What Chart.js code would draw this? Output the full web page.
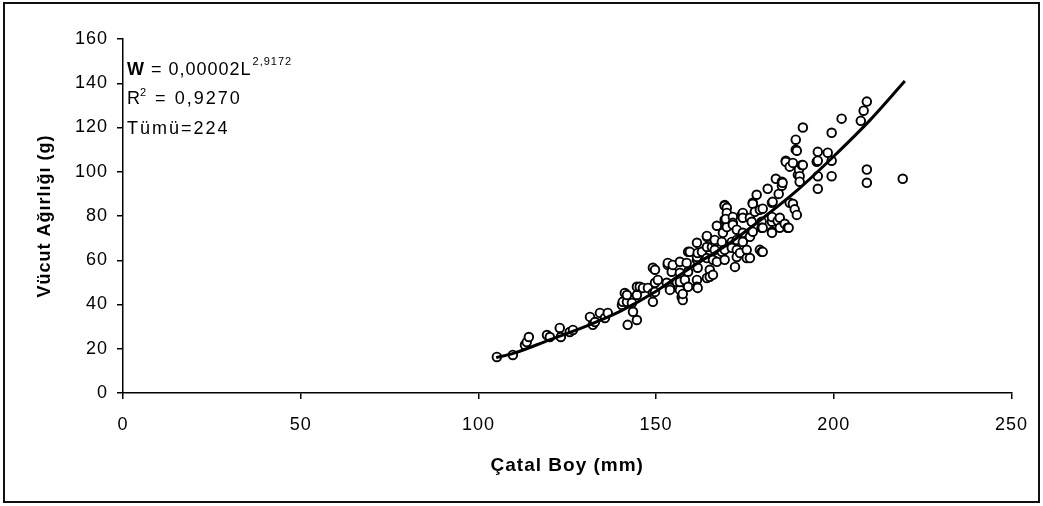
<!DOCTYPE html>
<html><head><meta charset="utf-8">
<script src="https://cdn.jsdelivr.net/npm/chart.js@4/dist/chart.umd.min.js"></script>
<style>html,body{margin:0;padding:0;background:#fff}canvas{display:block}</style>
</head><body>
<canvas id="c" width="1043" height="506"></canvas>
<script>
const forkLength = [105.2,109.7,113.1,113.6,114.2,119.3,120.1,122.9,123.2,125.7,126.6,131.4,132.2,132.8,134.2,135.6,136.4,140.4,140.6,141.2,141.8,141.8,142.0,143.2,143.5,144.6,144.6,144.6,145.4,146.3,147.7,149.1,149.1,149.1,149.7,149.7,149.7,150.5,153.0,153.3,153.3,153.9,153.9,154.4,154.7,155.8,156.7,156.7,156.7,156.7,157.2,157.5,157.5,158.1,158.6,159.0,159.0,159.0,159.5,161.5,161.5,161.5,161.5,161.5,161.7,161.7,161.7,162.9,164.3,164.3,164.3,164.3,164.3,165.1,165.1,165.7,166.0,166.0,166.5,166.5,166.5,167.1,167.1,168.5,168.5,168.8,169.3,169.3,169.3,169.3,169.3,169.9,169.9,169.9,169.6,171.3,171.3,171.6,171.6,171.6,172.2,172.7,172.7,172.7,172.7,173.6,174.1,174.4,174.4,174.4,174.4,175.5,175.5,176.4,176.4,176.4,176.9,177.2,177.2,177.2,177.8,178.3,179.2,179.2,179.7,179.7,179.7,180.0,180.0,180.0,181.4,182.6,182.6,182.6,182.6,182.6,182.8,183.7,184.2,184.5,184.8,184.8,185.4,185.4,185.6,186.2,186.5,186.5,187.0,187.3,187.6,187.6,188.5,188.5,189.0,189.3,189.3,189.6,189.6,189.9,190.2,190.4,190.4,191.0,191.3,191.3,195.2,195.5,195.5,195.5,195.5,198.3,199.4,199.4,199.4,202.2,207.6,208.4,209.3,209.3,209.3,219.4];
const bodyWeight = [16.3,17.2,21.7,23.0,25.3,26.2,25.3,29.4,25.3,27.6,28.5,34.4,30.8,32.1,36.2,33.9,36.2,39.8,41.2,45.2,41.2,44.3,30.8,40.7,36.7,33.0,44.3,48.0,48.0,47.5,47.5,41.2,45.2,56.6,45.7,49.8,55.7,51.1,49.8,57.9,58.8,47.5,46.6,54.8,57.9,50.2,59.3,54.3,46.6,50.2,43.4,42.0,44.8,51.1,58.8,63.8,54.8,48.0,63.8,67.9,60.2,51.1,48.0,61.5,63.3,56.6,47.5,63.8,70.6,66.0,61.0,52.0,71.0,55.7,52.5,66.0,53.4,60.2,68.3,69.2,64.7,59.3,75.6,68.3,63.8,72.4,85.0,84.6,78.3,64.7,60.2,83.7,81.4,75.0,78.7,68.3,65.6,79.6,76.9,76.0,57.0,73.8,64.7,61.5,69.2,63.3,80.5,81.4,79.2,72.4,68.3,64.7,61.0,61.0,70.6,79.2,77.4,86.0,72.9,85.5,81.9,89.6,82.8,64.7,77.4,63.8,74.7,74.7,63.8,83.3,92.3,86.0,77.4,72.9,79.6,72.4,86.4,96.8,77.8,90.0,79.2,74.7,93.7,95.5,95.0,76.5,105.0,104.5,74.7,74.7,86.0,102.3,104.0,85.5,83.0,114.5,110.0,80.5,109.5,98.6,101.0,98.0,95.5,103.0,120.0,103.0,104.5,109.0,105.0,98.0,92.3,108.6,117.6,105.0,98.0,124.0,123.0,127.6,131.7,101.0,95.0,96.8];
const trendLength = [105,110,120,130,140,150,160,170,180,190,200,210,220];
const trendWeight = [16,18,24,30,37,46,57,67,79,92,107,123,141];
const xTicks = [0,50,100,150,200,250];
const yTicks = [0,20,40,60,80,100,120,140,160];
const xTitle = 'Çatal Boy (mm)';
const yTitle = 'Vücut Ağırlığı (g)';
const eqLead = 'W', eqRest = ' = 0,00002L', eqExp = '2,9172';
const r2Lead = 'R', r2Exp = '2', r2Rest = ' = 0,9270';
const countText = 'Tümü=224';

const FONT = '"Liberation Sans", Arial, sans-serif';
const SP = '1px';

const spacing = {
  id: 'spacing',
  beforeLayout(c) { c.ctx.letterSpacing = SP; },
  beforeDraw(c) { c.ctx.letterSpacing = SP; }
};
const annot = {
  id: 'annot',
  afterDatasetsDraw(c) {
    const ctx = c.ctx, a = c.chartArea;
    ctx.save();
    ctx.fillStyle = '#000';
    ctx.textBaseline = 'alphabetic';
    ctx.textAlign = 'left';
    ctx.letterSpacing = '1px';
    let x = a.left + 4, y = a.top + 36;
    ctx.font = 'bold 18px ' + FONT;
    ctx.fillText(eqLead, x, y); x += ctx.measureText(eqLead).width;
    ctx.font = '18px ' + FONT;
    ctx.fillText(eqRest, x, y); x += ctx.measureText(eqRest).width + 1;
    ctx.font = '11px ' + FONT;
    ctx.fillText(eqExp, x, y - 10);
    ctx.letterSpacing = '2px';
    x = a.left + 4; y = a.top + 65;
    ctx.font = '18px ' + FONT;
    ctx.fillText(r2Lead, x, y); x += ctx.measureText(r2Lead).width - 2;
    ctx.font = '11px ' + FONT;
    ctx.fillText(r2Exp, x, y - 8); x += ctx.measureText(r2Exp).width;
    ctx.font = '18px ' + FONT;
    ctx.fillText(r2Rest, x, y);
    x = a.left + 4; y = a.top + 95;
    ctx.fillText(countText, x, y);
    ctx.restore();
  },
  afterDraw(c) {
    const ctx = c.ctx;
    ctx.save();
    ctx.strokeStyle = '#111';
    ctx.lineWidth = 2;
    ctx.strokeRect(4, 3, 1035, 499);
    ctx.restore();
  }
};

new Chart(document.getElementById('c'), {
  type: 'scatter',
  data: {
    datasets: [
      {
        type: 'line',
        data: trendLength.map((x, i) => ({x, y: trendWeight[i]})),
        borderColor: '#000', borderWidth: 3, pointRadius: 0,
        tension: 0.4, cubicInterpolationMode: 'monotone', fill: false
      },
      {
        data: forkLength.map((x, i) => ({x, y: bodyWeight[i]})),
        pointRadius: 4.3, pointBorderWidth: 1.9,
        pointBorderColor: '#000', pointBackgroundColor: '#fff', pointHoverRadius: 4.3
      }
    ]
  },
  options: {
    responsive: false, animation: false,
    events: [],
    layout: {padding: {left: 0, top: 39, right: 31, bottom: 0}},
    plugins: {legend: {display: false}, tooltip: {enabled: false}},
    scales: {
      x: {
        type: 'linear', min: 0, max: 250,
        afterBuildTicks(s) { s.ticks = xTicks.map(v => ({value: v})); },
        afterFit(s) { s.height = 113; },
        ticks: {color: '#000', font: {family: FONT, size: 18}, padding: 15, autoSkip: false, maxRotation: 0},
        grid: {drawOnChartArea: false, drawTicks: true, tickLength: 6, color: '#000', lineWidth: 1.5},
        border: {color: '#000', width: 1.5},
        title: {display: true, text: xTitle, color: '#000', font: {family: FONT, size: 19, weight: 'bold'}, padding: {top: 0, bottom: 29}}
      },
      y: {
        type: 'linear', min: 0, max: 160,
        afterBuildTicks(s) { s.ticks = yTicks.map(v => ({value: v})); },
        afterFit(s) { s.width = 123; },
        ticks: {color: '#000', font: {family: FONT, size: 18}, padding: 9, autoSkip: false},
        grid: {drawOnChartArea: false, drawTicks: true, tickLength: 6, color: '#000', lineWidth: 1.5},
        border: {color: '#000', width: 1.5},
        title: {display: true, text: yTitle, color: '#000', font: {family: FONT, size: 18, weight: 'bold'}, padding: {top: 34, bottom: 0}}
      }
    }
  },
  plugins: [spacing, annot]
});
</script>
</body></html>
